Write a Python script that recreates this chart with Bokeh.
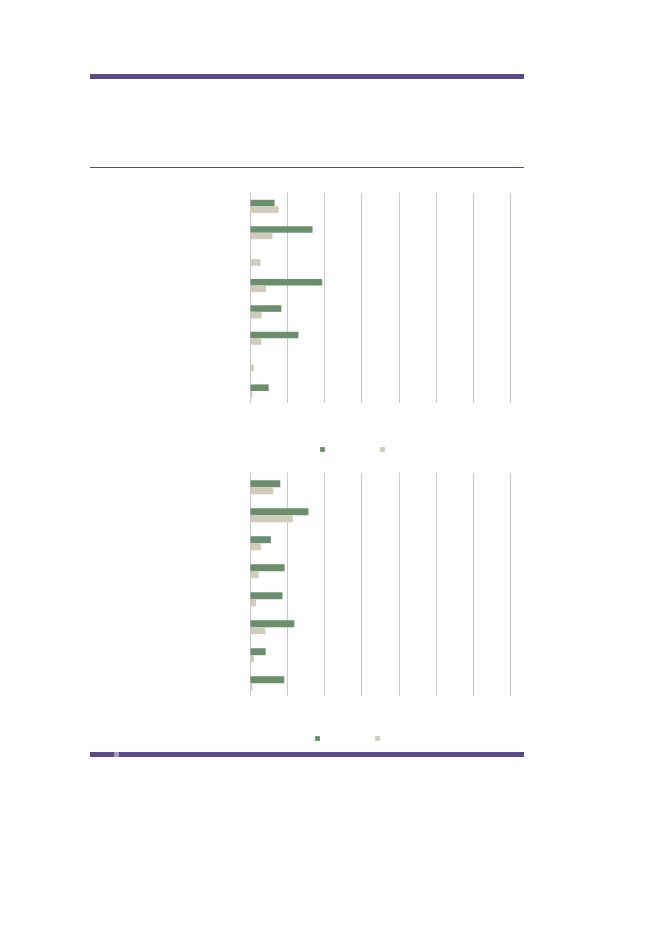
from bokeh.plotting import figure
from bokeh.models import FactorRange, Range1d, FixedTicker, Legend, LegendItem, Div
from bokeh.layouts import column
from bokeh.transform import dodge
from bokeh.embed import file_html
from bokeh.resources import INLINE

# ---- data ----
categories = ["1", "2", "3", "4", "5", "6", "7", "8"]
chart1_series_a = [6.5, 16.7, 0.0, 19.3, 8.3, 12.9, 0.0, 4.9]
chart1_series_b = [7.6, 5.9, 2.7, 4.2, 3.0, 2.9, 0.9, 0.5]
chart2_series_a = [8.0, 15.6, 5.5, 9.2, 8.6, 11.8, 4.1, 9.1]
chart2_series_b = [6.1, 11.4, 2.8, 2.2, 1.5, 4.0, 0.9, 0.5]
x_ticks = [0, 10, 20, 30, 40, 50, 60, 70]

GREEN = "#6b8f6d"
BEIGE = "#d0ccbb"
PURPLE = "#5b4a8a"
GRID = "#c8c8c8"
W = 645
LEFT = 249
FRAME_W = 264


def rule(top, height, left=90, width=433.7, color=PURPLE):
    return (f'<div style="position:absolute;left:{left}px;top:{top}px;width:{width}px;'
            f'height:{height}px;background:{color};"></div>')


def base(height, top, bottom, x_range, y_range):
    p = figure(width=W, height=height, output_backend="svg", toolbar_location=None,
               x_range=x_range, y_range=y_range)
    p.min_border = 0
    p.min_border_left = LEFT
    p.min_border_right = W - LEFT - FRAME_W
    p.min_border_top = top
    p.min_border_bottom = bottom
    p.axis.visible = False
    p.outline_line_color = None
    return p


def chart(a, b, height, top):
    p = base(height, top, 0, Range1d(-0.27, 70.8), FactorRange(factors=categories[::-1], range_padding=0))
    p.ygrid.visible = False
    p.xgrid.ticker = FixedTicker(ticks=x_ticks)
    p.xgrid.grid_line_color = GRID
    p.xgrid.grid_line_width = 1
    data = dict(cat=categories, a=a, b=b)
    p.hbar(y=dodge("cat", 0.1, range=p.y_range), right="a", left=0, height=0.25,
           source=data, fill_color=GREEN, line_color=None)
    p.hbar(y=dodge("cat", -0.15, range=p.y_range), right="b", left=0, height=0.25,
           source=data, fill_color=BEIGE, line_color=None)
    return p


def legend_row(height, loc):
    p = base(height, 0, 0, Range1d(0, 1), Range1d(0, 1))
    p.grid.visible = False
    ra = p.hbar(y=[0.5], right=[0], left=[0], height=0.1, fill_color=GREEN, line_color=None)
    rb = p.hbar(y=[0.5], right=[0], left=[0], height=0.1, fill_color=BEIGE, line_color=None)
    leg = Legend(items=[LegendItem(label=" ", renderers=[ra]), LegendItem(label=" ", renderers=[rb])],
                 orientation="horizontal", location=loc,
                 padding=0, margin=0, spacing=0, glyph_width=6, glyph_height=6,
                 label_standoff=0, label_width=54, label_height=6,
                 border_line_alpha=0, background_fill_alpha=0)
    p.add_layout(leg, "center")
    return p


header = Div(width=W, height=180, margin=0, styles={"position": "relative"},
             text=rule(74.3, 4.7) + rule(166.7, 1.6))

c1 = chart(chart1_series_a, chart1_series_b, 223, 12)
l1 = legend_row(62, (70.4, 12.9))
c2 = chart(chart2_series_a, chart2_series_b, 231, 7)
l2 = legend_row(49, (65.4, 4.3))

footer = Div(width=W, height=30, margin=0, styles={"position": "relative"},
             text=rule(7.3, 4.4, 90, 24) + rule(7.3, 4.4, 114, 4.5, "#a89cc4")
             + rule(7.3, 4.4, 118.5, 405.2))

layout = column(header, c1, l1, c2, l2, footer, spacing=0)
open("out.html", "w").write(file_html(layout, INLINE))
